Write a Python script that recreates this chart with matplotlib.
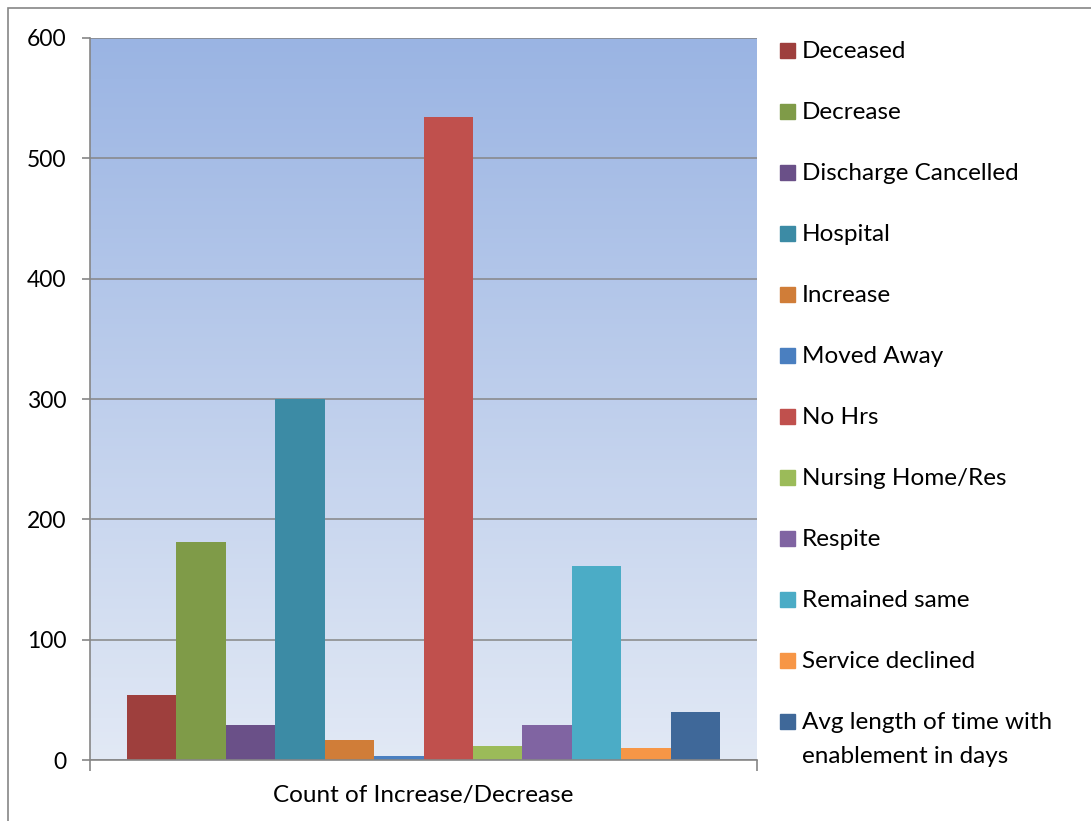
import numpy as np
import matplotlib
matplotlib.use("Agg")
import matplotlib.pyplot as plt
from matplotlib.patches import Rectangle

categories = ["Deceased", "Decrease", "Discharge Cancelled", "Hospital", "Increase",
              "Moved Away", "No Hrs", "Nursing Home/Res", "Respite", "Remained same",
              "Service declined", "Avg length of time with\nenablement in days"]
values = [54, 181, 29, 300, 17, 3, 534, 12, 29, 161, 10, 40]
colors = ["#9E3F3D", "#7F9B48", "#6A5088", "#3C8BA5", "#D07D38", "#4A7FC0",
          "#C0504D", "#9BBB59", "#8064A2", "#4BACC6", "#F79646", "#3F6899"]
group_label = "Count of Increase/Decrease"

plt.rcParams["font.family"] = ["Lato", "DejaVu Sans"]
FS_TICK = 16.5
FS = 17.5
W, H = 1091, 821

fig = plt.figure(figsize=(W / 100, H / 100), dpi=100)
ax = fig.add_axes([90 / W, 1 - 760 / H, 667 / W, 722 / H])

# gradient plot background
grad = np.linspace(0, 1, 256).reshape(-1, 1)
cmap = matplotlib.colors.LinearSegmentedColormap.from_list("bg", ["#E2E9F5", "#9AB4E3"])
ax.imshow(grad, extent=[-0.5, 0.5, 0, 600], origin="lower", aspect="auto",
          cmap=cmap, zorder=0)

n = len(values)
w = (593 / 667) / n
x = -0.5 + 37 / 667 + w * (np.arange(n) + 0.5)
bars = ax.bar(x, values, width=w, color=colors, zorder=3)

ax.set_xlim(-0.5, 0.5)
ax.set_ylim(0, 600)
ax.set_yticks(range(0, 601, 100))
ax.tick_params(axis="y", labelsize=FS_TICK, length=6, width=1.2, color="#868686", pad=11)
ax.set_xticks([0], labels=[group_label])
ax.tick_params(axis="x", which="major", length=0, labelsize=FS, pad=18)
ax.set_xticks([-0.5, 0.5], minor=True)
ax.tick_params(axis="x", which="minor", length=8, width=1.2, color="#868686")
ax.grid(axis="y", color="#868686", lw=1.1, zorder=1)
ax.set_axisbelow(False)
for s in ("top", "right"):
    ax.spines[s].set_visible(False)
for s in ("left", "bottom"):
    ax.spines[s].set_color("#868686")
    ax.spines[s].set_linewidth(1.2)
    ax.spines[s].set_zorder(4)

# legend: square on the first text line, one row every 61 px
LINE = 34
for i, (lab, c) in enumerate(zip(categories, colors)):
    base = 58 + 61 * i
    fig.patches.append(Rectangle((780 / W, 1 - base / H), 15 / W, 15 / H,
                                 transform=fig.transFigure, color=c))
    for j, part in enumerate(lab.split("\n")):
        fig.text(802 / W, 1 - (base + j * LINE) / H, part, fontsize=FS,
                 va="baseline", ha="left")

# outer chart border
fig.patches.append(Rectangle((8 / W, -0.05), 1.1, 1 - 8 / H + 0.05,
                             transform=fig.transFigure, fill=False,
                             edgecolor="#868686", lw=1.2))

fig.savefig("out.png", dpi=100)
